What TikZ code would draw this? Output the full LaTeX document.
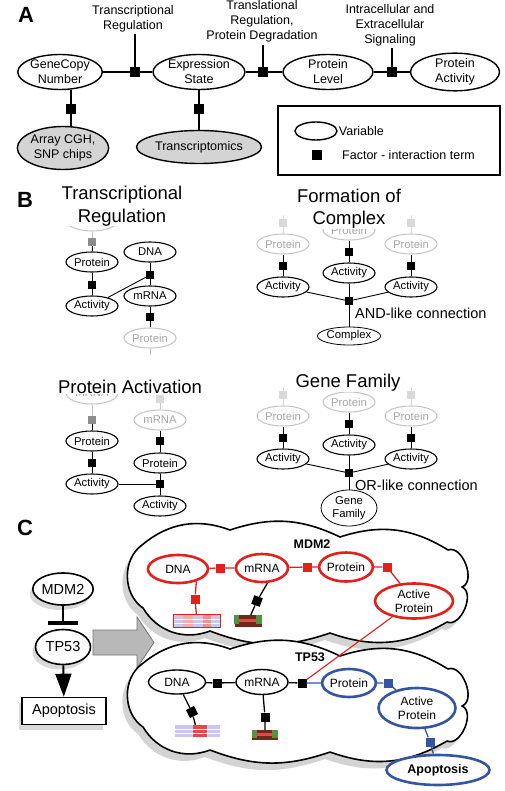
\documentclass[tikz,border=0pt]{standalone}
\usepackage{fontspec}
\setmainfont{Liberation Sans}
\usetikzlibrary{shapes.geometric,shadows,arrows.meta}
\definecolor{redc}{RGB}{226,32,28}
\definecolor{bluec}{RGB}{52,84,164}
\definecolor{hmblue}{RGB}{200,200,240}
\definecolor{hmred}{RGB}{228,72,72}
\definecolor{hmdark}{RGB}{110,40,30}
\definecolor{hmgreen}{RGB}{80,150,60}
\tikzset{
	var/.style={ellipse,draw,line width=1.4pt,inner sep=0pt,align=center,font=\fontsize{12.5}{15}\selectfont},
	fac/.style={rectangle,fill=black,minimum size=10pt,inner sep=0pt},
	lbl/.style={align=center,inner sep=2pt,font=\fontsize{12.5}{15}\selectfont},
	bvar/.style={ellipse,draw,line width=1.1pt,minimum width=52pt,minimum height=20pt,inner sep=0pt,align=center,font=\fontsize{11.3}{13}\selectfont},
	bfac/.style={rectangle,fill=black,minimum size=8pt,inner sep=0pt},
	faint/.style={draw=black!22,text=black!35},
	grayfac/.style={bfac,fill=black!45},
	paleface/.style={bfac,fill=black!15},
	btitle/.style={align=center,fill=white,inner sep=0.5pt,font=\fontsize{18.5}{22.5}\selectfont},
	blabel/.style={anchor=west,inner sep=0pt,font=\fontsize{14.5}{17}\selectfont},
	panel/.style={font=\bfseries\fontsize{22}{22}\selectfont},
	shad/.style={drop shadow={shadow xshift=-3pt,shadow yshift=-5pt,opacity=.3}},
	cvar/.style={ellipse,draw,fill=white,inner sep=0pt,align=center,font=\fontsize{12}{14}\selectfont},
	redv/.style={cvar,draw=redc,line width=2.6pt},
	bluev/.style={cvar,draw=bluec,line width=2.6pt},
	blackv/.style={cvar,line width=1.4pt},
	cfac/.style={rectangle,fill=black,minimum size=9pt,inner sep=0pt},
	cloudline/.style={draw,line width=1.6pt,line join=round,fill=white,drop shadow={shadow xshift=-5pt,shadow yshift=-7pt,opacity=.35}},
	hmap/.style={rectangle,inner sep=0pt,fill=hmblue}
}

\begin{document}
\begin{tikzpicture}[x=1pt,y=-1pt,every path/.style={>=latex}]
	\useasboundingbox (0,0) rectangle (504,791);
	
	%%%%%%%%%%%%%%%%%% panel A
	\node[panel] (labA) at (26,15) {A};
	
	% draw chain of variables
	\node[var,minimum width=70pt,minimum height=35pt] (gcn) at (60,72) {GeneCopy\\Number};
	\node[var,minimum width=92pt,minimum height=35pt] (es) at (199,72) {Expression\\State};
	\node[var,minimum width=90pt,minimum height=35pt] (pl) at (328,72) {Protein\\Level};
	\node[var,minimum width=89pt,minimum height=35pt] (pact) at (455,72) {Protein\\Activity};
	
	% draw factors between them
	\node[fac] (f1) at (135,72) {};
	\node[fac] (f2) at (263,72) {};
	\node[fac] (f3) at (392,72) {};
	\draw[line width=1.4pt] (gcn) -- (f1) -- (es) -- (f2) -- (pl) -- (f3) -- (pact);
	
	% draw factor labels
	\node[lbl] (l1) at (133,18.5) {Transcriptional\\Regulation};
	\node[lbl] (l2) at (262,21.5) {Translational\\Regulation,\\Protein Degradation};
	\node[lbl] (l3) at (390,25) {Intracellular and\\Extracellular\\Signaling};
	\draw[line width=1.4pt] (f1) -- (f1 |- l1.south);
	\draw[line width=1.4pt] (f2) -- (f2 |- l2.south);
	\draw[line width=1.4pt] (f3) -- (f3 |- l3.south);
	
	% draw measurements
	\node[fac] (f4) at (71,109) {};
	\node[var,fill=black!17,minimum width=74pt,minimum height=43pt] (arr) at (63,148) {Array CGH,\\SNP chips};
	\draw[line width=1.4pt] (f4 |- gcn.south) -- (f4) -- (f4 |- arr.north);
	\node[fac] (f5) at (199,109) {};
	\node[var,fill=black!17,minimum width=125pt,minimum height=33pt] (trx) at (199,147) {Transcriptomics};
	\draw[line width=1.4pt] (es) -- (f5) -- (trx);
	
	% draw legend
	\node[draw,line width=1.2pt,minimum width=222pt,minimum height=69pt,inner sep=0pt] (legend) at (389,140.5) {};
	\node[var,minimum width=42pt,minimum height=18pt] (lvar) at (316,131) {};
	\node[lbl,anchor=west,inner sep=1pt] (lvartxt) at (lvar.east) {Variable};
	\node[fac] (lfac) at (317,155) {};
	\node[lbl,anchor=west,inner sep=0pt] (lfactxt) at (342,155) {Factor - interaction term};
	
	%%%%%%%%%%%%%%%%%% panel B
	\node[panel] (labB) at (25,200) {B};
	
	% transcriptional regulation
	\node[bvar,faint,minimum height=22pt] (tr-m0) at (92,220) {mRNA};
	\node[grayfac] (tr-q0) at (92,242) {};
	\node[bvar] (tr-p) at (92,262) {Protein};
	\node[bfac] (tr-q1) at (92,285) {};
	\node[bvar] (tr-a) at (92,306) {Activity};
	\node[bvar] (tr-dna) at (150,252) {DNA};
	\node[bfac] (tr-q2) at (150,275) {};
	\node[bvar] (tr-mrna) at (150,296) {mRNA};
	\node[bfac] (tr-q3) at (150,317) {};
	\node[bvar,faint] (tr-p2) at (150,338) {Protein};
	\draw[black!25] (tr-m0) -- (tr-q0);
	\draw[black!25] (tr-p2.south) -- ++(0,6);
	\draw[line width=0.9pt] (tr-q0) -- (tr-p) -- (tr-q1) -- (tr-a);
	\draw[line width=0.9pt] (tr-dna) -- (tr-q2) -- (tr-mrna) -- (tr-q3) -- (tr-p2);
	\draw[line width=0.9pt] (tr-a) -- (tr-q2);
	\node[btitle] (tr-title) at (122,206) {Transcriptional\\Regulation};
	
	% protein activation
	\node[bvar,faint,minimum height=22pt] (pa-m0) at (92,393) {mRNA};
	\node[grayfac] (pa-q0) at (92,420) {};
	\node[bvar] (pa-p) at (92,441) {Protein};
	\node[bfac] (pa-q1) at (92,463) {};
	\node[bvar] (pa-a) at (92,484) {Activity};
	\node[paleface] (pa-q4) at (160,399) {};
	\node[bvar,faint] (pa-m1) at (160,420) {mRNA};
	\node[bfac] (pa-q2) at (160,441) {};
	\node[bvar] (pa-p2) at (160,463) {Protein};
	\node[bfac] (pa-q3) at (160,484) {};
	\node[bvar] (pa-a2) at (160,506) {Activity};
	\draw[black!25] (pa-m0) -- (pa-q0);
	\draw[black!20] (pa-q4) -- (pa-m1);
	\draw[line width=0.9pt] (pa-q0) -- (pa-p) -- (pa-q1) -- (pa-a);
	\draw[line width=0.9pt] (pa-m1) -- (pa-q2) -- (pa-p2) -- (pa-q3) -- (pa-a2);
	\draw[line width=0.9pt] (pa-a) -- (pa-q3);
	\node[btitle] (pa-title) at (130,387) {Protein Activation};
	
	% formation of complex and gene family
	\foreach \pre/\dy in {fc/0,gf/172}
	{
		\foreach \i/\x/\o in {1/283/0,2/349/-14,3/411/0}
		{
			\node[bvar,faint] (\pre-p\i) at (\x,244+\dy+\o) {Protein};
			\node[bfac] (\pre-q\i) at (\x,266+\dy+\o) {};
			\node[bvar] (\pre-a\i) at (\x,287+\dy+\o) {Activity};
			\draw[line width=0.9pt] (\pre-p\i) -- (\pre-q\i) -- (\pre-a\i);
		}
		\foreach \i/\x in {1/283,3/411}
		{
			\node[paleface] (\pre-t\i) at (\x,223+\dy) {};
			\draw[black!15] (\pre-t\i) -- (\pre-p\i);
			\draw[black!15] (\pre-t\i) -- ++(0,-8);
		}
		\node[bfac] (\pre-j) at (349,301+\dy) {};
		\draw[line width=0.9pt] (\pre-a1) -- (\pre-j) -- (\pre-a3);
		\draw[line width=0.9pt] (\pre-a2) -- (\pre-j);
	}
	\node[bvar,line width=0.8pt,minimum height=18pt] (fc-c) at (349,336) {Complex};
	\draw[line width=0.9pt] (fc-j) -- (fc-c);
	\node[blabel] (fc-lab) at (355,313) {AND-like connection};
	\node[btitle] (fc-title) at (349,208.5) {Formation of\\Complex};
	\node[bvar,line width=0.8pt,minimum width=56pt,minimum height=36pt] (gf-g) at (349,508) {Gene\\Family};
	\draw[line width=0.9pt] (gf-j) -- (gf-g);
	\node[blabel] (gf-lab) at (355,485) {OR-like connection};
	\node[btitle] (gf-title) at (348,383) {Gene Family};
	
	%%%%%%%%%%%%%%%%%% panel C
	\node[panel] (labC) at (25,528) {C};
	
	% draw big arrow
	\draw[draw=black!55,fill=black!28,line width=0.8pt] (93,630) -- (137,630) -- (137,617) -- (154,642.5) -- (137,668) -- (137,655) -- (93,655) -- cycle;
	
	% draw small network
	\node[blackv,line width=1.6pt,minimum width=55pt,minimum height=32pt,font=\fontsize{14.5}{16}\selectfont,shad] (mdm) at (63,589) {MDM2};
	\node[blackv,line width=1.6pt,minimum width=55pt,minimum height=35pt,font=\fontsize{14.5}{16}\selectfont,shad] (tp) at (63,647) {TP53};
	\node[draw,fill=white,line width=1.6pt,minimum width=84pt,minimum height=27pt,inner sep=0pt,font=\fontsize{14.5}{16}\selectfont,shad] (apo) at (64,711) {Apoptosis};
	\coordinate (inhib) at (63,623);
	\draw[line width=2pt] (mdm) -- (inhib);
	\draw[line width=4pt] ([xshift=-15pt]inhib) -- ([xshift=15pt]inhib);
	\draw[line width=2pt,-{Triangle[length=23pt,width=16pt]}] (tp) -- (apo);
	
	% draw the two clouds
	\foreach \dy in {0,119}
	{
		\draw[cloudline,shift={(0,\dy)}] (142,545) to[bend left=30] (230,530) to[bend left=22] (340,537)
			to[bend left=25] (448,550) to[bend left=90] (462,587) to[bend left=90] (447,622)
			to[bend left=25] (330,633) to[bend left=20] (210,631) to[bend left=40] (143,608)
			to[bend left=55] (142,545) -- cycle;
	}
	
	% draw MDM2 network
	\node[font=\bfseries\fontsize{12.5}{14}\selectfont] (mlab) at (312,544) {MDM2};
	\node[redv,minimum width=60pt,minimum height=28pt] (m-dna) at (178,569) {DNA};
	\node[cfac,fill=redc] (m-s1) at (220,568) {};
	\node[redv,minimum width=52pt,minimum height=28pt] (m-mrna) at (262,568) {mRNA};
	\node[cfac,fill=redc] (m-s2) at (307,567) {};
	\node[redv,minimum width=50pt,minimum height=29pt] (m-prot) at (346,567) {Protein};
	\node[cfac,fill=redc] (m-s3) at (387,567) {};
	\node[redv,minimum width=78pt,minimum height=35pt] (m-act) at (414,601) {Active\\Protein};
	\draw[redc,line width=1.3pt] (m-dna) -- (m-s1) -- (m-mrna) -- (m-s2) -- (m-prot) -- (m-s3) -- (m-act);
	
	% draw MDM2 arrays
	\node[hmap,minimum width=47pt,minimum height=12pt] (m-hm1) at (197,621) {};
	\node[hmap,fill=hmdark,minimum width=27pt,minimum height=12pt] (m-hm2) at (248,621) {};
	\node[cfac,fill=redc] (m-ds) at (195,599) {};
	\node[cfac,rotate=-20] (m-ms) at (257,601) {};
	\draw[redc,line width=1.3pt] (m-dna.-34) -- (m-ds) -- (m-hm1);
	\draw[line width=1.3pt] (m-mrna.-70) -- (m-ms) -- (m-hm2);
	
	% draw TP53 network
	\node[font=\bfseries\fontsize{12.5}{14}\selectfont] (tlab) at (310,657) {TP53};
	\node[blackv,minimum width=57pt,minimum height=24pt] (t-dna) at (177,682) {DNA};
	\node[cfac] (t-s1) at (217,683) {};
	\node[blackv,minimum width=52pt,minimum height=25pt] (t-mrna) at (262,682) {mRNA};
	\node[cfac] (t-s2) at (302,683) {};
	\node[bluev,minimum width=52pt,minimum height=28pt] (t-prot) at (349,683) {Protein};
	\node[cfac,fill=bluec] (t-s3) at (388,683) {};
	\node[bluev,minimum width=77pt,minimum height=40pt] (t-act) at (417,708) {Active\\Protein};
	\node[cfac,fill=bluec] (t-s4) at (430,742) {};
	\node[bluev,minimum width=103pt,minimum height=30pt,font=\bfseries\fontsize{12.5}{14}\selectfont] (t-apo) at (438,770) {Apoptosis};
	\draw[line width=1.3pt] (t-dna) -- (t-s1) -- (t-mrna) -- (t-s2);
	\draw[bluec,line width=1.3pt] (t-s2) -- (t-prot) -- (t-s3) -- (t-act) -- (t-s4) -- (t-apo);
	
	% draw TP53 arrays
	\node[hmap,minimum width=45pt,minimum height=12pt] (t-hm1) at (197,731) {};
	\node[hmap,fill=hmdark,minimum width=26pt,minimum height=10pt] (t-hm2) at (265,735) {};
	\node[cfac,rotate=27] (t-ds) at (192,712) {};
	\node[cfac] (t-ms) at (265,717) {};
	\draw[line width=1.3pt] (t-dna) -- (t-ds) -- (t-hm1);
	\draw[line width=1.3pt] (t-mrna) -- (t-ms) -- (t-hm2);
	
	% array patterns
	\fill[hmred!45] ([xshift=-14pt,yshift=-6pt]m-hm1.center) rectangle ([xshift=-4pt,yshift=6pt]m-hm1.center);
	\fill[hmred!60] ([xshift=6pt,yshift=-6pt]m-hm1.center) rectangle ([xshift=14pt,yshift=6pt]m-hm1.center);
	\fill[hmred] ([xshift=-4pt,yshift=-6pt]t-hm1.center) rectangle ([xshift=10pt,yshift=6pt]t-hm1.center);
	\foreach \h in {m-hm1,t-hm1}
	{
		\fill[white] ([yshift=2pt]\h.west) rectangle ([yshift=1pt]\h.east);
		\fill[white] ([yshift=-2pt]\h.west) rectangle ([yshift=-3pt]\h.east);
	}
	\foreach \h in {m-hm2,t-hm2}
	{
		\fill[hmred] ([yshift=2pt]\h.west) rectangle ([yshift=-1pt]\h.east);
		\fill[hmgreen] (\h.north west) rectangle ([xshift=5pt,yshift=-3pt]\h.west);
		\fill[hmgreen] ([xshift=-6pt]\h.north east) rectangle ([yshift=-3pt]\h.east);
	}
	\draw[redc,line width=1pt] (m-hm1.north west) rectangle (m-hm1.south east);
	
	% draw link between the two genes
	\draw[redc,line width=1.1pt] (m-act) -- (t-s2);
\end{tikzpicture}
\end{document}
